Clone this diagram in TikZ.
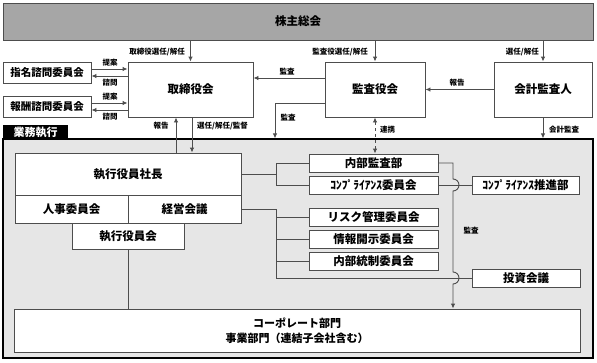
\documentclass[tikz,border=0pt]{standalone}
\usepackage{fontspec}
\setmainfont{Noto Sans CJK JP}
\usetikzlibrary{arrows.meta,calc}
\definecolor{bord}{HTML}{4D4D4D}
\definecolor{topgray}{HTML}{A6A6A6}
\definecolor{areagray}{HTML}{E6E6E6}
\begin{document}
\begin{tikzpicture}[x=1pt,y=-1pt,
 box/.style={draw=bord,line width=0.9pt,fill=white,inner sep=0pt,font=\bfseries\fontsize{11.5}{13}\selectfont},
 sbox/.style={box,minimum height=18pt},
 lbl/.style={font=\bfseries\fontsize{7.5}{9}\selectfont,inner sep=0pt},
 con/.style={draw=bord,line width=0.9pt},
 arr/.style={con,-{Latex[length=5pt,width=4.5pt]}},
 darr/.style={con,dashed,{Latex[length=5pt,width=4.5pt]}-{Latex[length=5pt,width=4.5pt]}},
]
\useasboundingbox (0,0) rectangle (597,362);
% top
\node[box,fill=topgray,draw=bord,minimum width=590pt,minimum height=37pt] (top) at (298,21.5) {株主総会};
\node[box,minimum width=125pt,minimum height=55pt] (tori) at (190.5,89.5) {取締役会};
\node[box,minimum width=100pt,minimum height=55pt] (kansa) at (375,89.5) {監査役会};
\node[box,minimum width=98pt,minimum height=55pt] (kaikei) at (543,89.5) {会計監査人};
\node[box,minimum width=88pt,minimum height=21pt,font=\bfseries\fontsize{10.5}{12}\selectfont] (shimei) at (47,72.5) {指名諮問委員会};
\node[box,minimum width=88pt,minimum height=21pt,font=\bfseries\fontsize{10.5}{12}\selectfont] (hoshu) at (47,106.5) {報酬諮問委員会};
% area
\node[draw=black,line width=1.2pt,fill=areagray,minimum width=590pt,minimum height=219pt,inner sep=0pt] (area) at (298,248.5) {};
\node[fill=black,text=white,font=\bfseries\fontsize{11}{12}\selectfont,minimum width=65pt,minimum height=14pt,inner sep=0pt] (tab) at (35.5,132) {業務執行};
% left block
\node[box,minimum width=226pt,minimum height=42pt] (shacho) at (128,174) {執行役員社長};
\node[box,minimum width=113pt,minimum height=28pt] (jinji) at (71.5,209) {人事委員会};
\node[box,minimum width=113pt,minimum height=28pt] (keiei) at (184.5,209) {経営会議};
\node[box,minimum width=112pt,minimum height=26pt] (shikko) at (128,236) {執行役員会};
\node[box,minimum width=566pt,minimum height=43pt,align=center,font=\bfseries\fontsize{11}{15}\selectfont] (corp) at (297,330.5) {コーポレート部門\\事業部門（連結子会社含む）};
% right column
\node[sbox,minimum width=129pt] (naibu) at (373.5,163) {内部監査部};
\node[sbox,minimum width=129pt] (comp) at (373.5,185) {ｺﾝﾌﾟﾗｲｱﾝｽ委員会};
\node[sbox,minimum width=129pt] (risk) at (373.5,217) {リスク管理委員会};
\node[sbox,minimum width=129pt] (joho) at (373.5,239) {情報開示委員会};
\node[sbox,minimum width=129pt] (tosei) at (373.5,261) {内部統制委員会};
\node[sbox,minimum width=107pt] (suishin) at (525.5,185) {ｺﾝﾌﾟﾗｲｱﾝｽ推進部};
\node[sbox,minimum width=108pt] (toshi) at (526,278) {投資会議};
\coordinate (j1) at (276,0);
\coordinate (j2) at (453,0);
% top arrows
\draw[arr] (top.south -| tori.north) -- (tori.north);
\node[lbl,anchor=east] at (185,52) {取締役選任/解任};
\draw[arr] (top.south -| kansa.north) -- (kansa.north);
\node[lbl,anchor=east] at (368,52) {監査役選任/解任};
\draw[arr] (top.south -| kaikei.north) -- (kaikei.north);
\node[lbl,anchor=east] at (539,52) {選任/解任};
\draw[arr] (kaikei.west) -- (kansa.west -| kansa.east);
\node[lbl] at (457,83) {報告};
\draw[arr] ([yshift=11.5pt]kansa.west) -- ([yshift=11.5pt]tori.east);
\node[lbl] at (287,72) {監査};
\draw[arr] ([yshift=-13.5pt]kansa.west) -| ([xshift=-23pt]area.north);
\node[lbl] at (288,118) {監査};
% advisory
\draw[arr] ([yshift=3.5pt]shimei.east) -- ([yshift=3.5pt]shimei.east -| tori.west);
\draw[arr] ([yshift=-3.5pt]shimei.east -| tori.west) -- ([yshift=-3.5pt]shimei.east);
\node[lbl] at (110,63) {提案};
\node[lbl] at (110,82.5) {諮問};
\draw[arr] ([yshift=3.5pt]hoshu.east) -- ([yshift=3.5pt]hoshu.east -| tori.west);
\draw[arr] ([yshift=-3.5pt]hoshu.east -| tori.west) -- ([yshift=-3.5pt]hoshu.east);
\node[lbl] at (110,97) {提案};
\node[lbl] at (110,117) {諮問};
% board <-> president
\draw[arr] ([xshift=-14.5pt]tori.south |- shacho.north) -- ([xshift=-14.5pt]tori.south);
\node[lbl] at (161,126) {報告};
\draw[arr] ([xshift=1.5pt]tori.south) -- ([xshift=1.5pt]tori.south |- shacho.north);
\node[lbl,anchor=west] at (197,126) {選任/解任/監督};
\draw[darr] (kansa.south) -- (kansa.south |- naibu.north);
\node[lbl,anchor=west] at (380,130) {連携};
\draw[arr] (kaikei.south) -- (kaikei.south |- area.north);
\node[lbl,anchor=west] at (549,130) {会計監査};
% internal connectors
\draw[con] (shacho.east) -- (shacho.east -| j1);
\draw[con] (naibu.west) -- (naibu.west -| j1) -- (comp.west -| j1) -- (comp.west);
\draw[con] (keiei.east) -- (keiei.east -| j1) -- (toshi.west -| j1) -- (toshi.west);
\draw[con] (risk.west -| j1) -- (risk.west);
\draw[con] (joho.west -| j1) -- (joho.west);
\draw[con] (tosei.west -| j1) -- (tosei.west);
\draw[con] (comp.east) -- (suishin.west);
\draw[arr] (naibu.east) -- (naibu.east -| j2) -- ($(comp.east -| j2)+(0,-6)$)
  arc[start angle=90,end angle=-90,radius=6pt] -- ($(toshi.west -| j2)+(0,-6)$)
  arc[start angle=90,end angle=-90,radius=6pt] -- (corp.north -| j2);
\node[lbl] at (471,231) {監査};
\draw[con] (shikko.south) -- (shikko.south |- corp.north);
\end{tikzpicture}
\end{document}
